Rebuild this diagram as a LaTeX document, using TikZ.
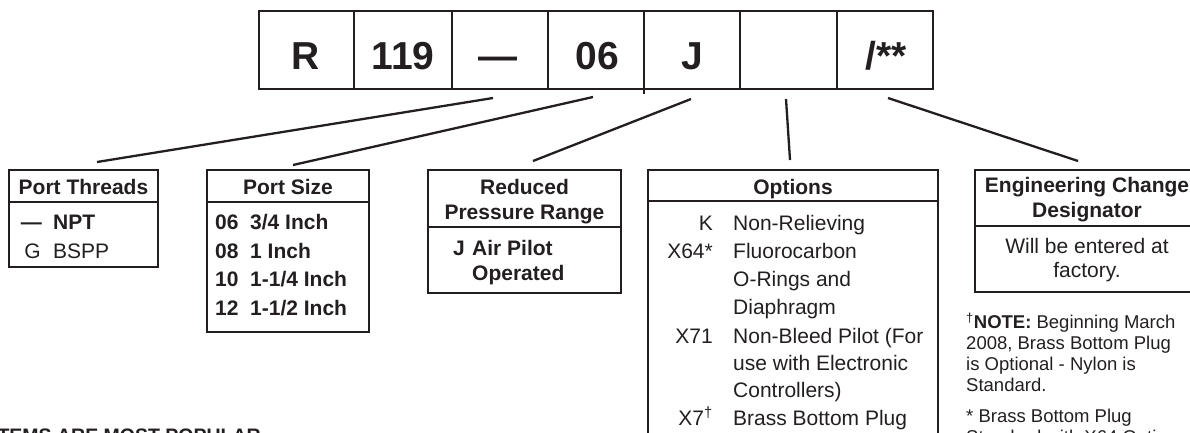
\documentclass[tikz,border=0pt]{standalone}
\usepackage{fontspec}
\setmainfont{Liberation Sans}
\definecolor{inkc}{HTML}{231F20}
\newcommand\fsTop{\fontsize{39}{44}\selectfont\bfseries}
\newcommand\fsMain{\fontsize{21}{28}\selectfont}
\newcommand\fsNote{\fontsize{18.5}{21}\selectfont}
\begin{document}
\begin{tikzpicture}[x=1pt,y=-1pt,
  ink/.style={draw=inkc, line width=2.4pt},
  cell/.style={ink, anchor=north west, inner sep=0pt, outer sep=0pt, minimum height=78pt},
  tbox/.style={ink, anchor=north west, inner sep=0pt, outer sep=0pt},
  conn/.style={draw=inkc, line width=2.3pt},
  toptxt/.style={text=inkc, anchor=base, inner sep=0pt, font=\fsTop},
  hd/.style={text=inkc, anchor=base, inner sep=0pt, font=\fsMain\bfseries},
  bl/.style={text=inkc, anchor=base west, inner sep=0pt, font=\fsMain\bfseries},
  rg/.style={text=inkc, anchor=base west, inner sep=0pt, font=\fsMain},
  rgc/.style={text=inkc, anchor=base, inner sep=0pt, font=\fsMain},
  rge/.style={text=inkc, anchor=base east, inner sep=0pt, font=\fsMain},
  nt/.style={text=inkc, anchor=base west, inner sep=0pt, font=\fsNote}]
\useasboundingbox (0,0) rectangle (1190,432);
\clip (0,0) rectangle (1190,432);

% top code bar
\node[cell, minimum width=95pt] (c1) at (259,11) {};
\node[cell, minimum width=98pt] (c2) at (354,11) {};
\node[cell, minimum width=96pt] (c3) at (452,11) {};
\node[cell, minimum width=96pt] (c4) at (548,11) {};
\node[cell, minimum width=96pt] (c5) at (644,11) {};
\node[cell, minimum width=97pt] (c6) at (740,11) {};
\node[cell, minimum width=96pt] (c7) at (837,11) {};
\draw[conn] (c5.south west) -- ++(0,5);
\node[toptxt] (tR) at (306,69) {R};
\node[toptxt] (t119) at (403,69) {119};
\node[toptxt] (tdash) at (498,69) {—};
\node[toptxt] (t06) at (597,69) {06};
\node[toptxt] (tJ) at (692,69) {J};
\node[toptxt] (tEC) at (886,69) {/**};

% Port Threads
\node[tbox, minimum width=149pt, minimum height=97pt] (pt) at (9,170) {};
\draw[ink] (pt.north west) ++(0,32) -- ++(149,0);
\node[hd] (ptH) at (83.5,194.5) {Port Threads};
\node[bl, anchor=base east] (ptc1) at (42,229.5) {—};
\node[bl] (ptd1) at (53,229.5) {NPT};
\node[rg, anchor=base east] (ptc2) at (41,258.5) {G};
\node[rg] (ptd2) at (53,258.5) {BSPP};

% Port Size
\node[tbox, minimum width=162pt, minimum height=162pt] (ps) at (207,170) {};
\draw[ink] (ps.north west) ++(0,32) -- ++(162,0);
\node[hd] (psH) at (288,194.5) {Port Size};
\node[bl] (psc1) at (215,229.5) {06};
\node[bl] (psd1) at (250,229.5) {3/4 Inch};
\node[bl] (psc2) at (215,258) {08};
\node[bl] (psd2) at (250,258) {1 Inch};
\node[bl] (psc3) at (215,286.5) {10};
\node[bl] (psd3) at (250,286.5) {1-1/4 Inch};
\node[bl] (psc4) at (215,315) {12};
\node[bl] (psd4) at (250,315) {1-1/2 Inch};

% Reduced Pressure Range
\node[tbox, minimum width=193pt, minimum height=123pt] (rp) at (428,170) {};
\draw[ink] (rp.north west) ++(0,57) -- ++(193,0);
\node[hd] (rpH1) at (524.5,194.5) {Reduced};
\node[hd] (rpH2) at (524.5,219.5) {Pressure Range};
\node[bl] (rpc1) at (453,255.5) {J};
\node[bl] (rpd1) at (472,255.5) {Air Pilot};
\node[bl] (rpd2) at (472,280.5) {Operated};

% Options
\node[tbox, minimum width=290pt, minimum height=320pt] (op) at (648,170) {};
\draw[ink] (op.north west) ++(0,31) -- ++(290,0);
\node[hd] (opH) at (793,194.5) {Options};
\node[rge] (opc1) at (713,230.5) {K};
\node[rg] (opd1) at (733,230.5) {Non-Relieving};
\node[rge] (opc2) at (713,258.5) {X64*};
\node[rg] (opd2) at (733,258.5) {Fluorocarbon};
\node[rg] (opd3) at (733,286.5) {O-Rings and};
\node[rg] (opd4) at (733,314.5) {Diaphragm};
\node[rge] (opc5) at (713,343.5) {X71};
\node[rg] (opd5) at (733,343.5) {Non-Bleed Pilot (For};
\node[rg] (opd6) at (733,370.5) {use with Electronic};
\node[rg] (opd7) at (733,397.5) {Controllers)};
\node[rge] (opc8) at (713,425.5) {X7\textsuperscript{†}};
\node[rg] (opd8) at (733,425.5) {Brass Bottom Plug};

% Engineering Change Designator
\node[tbox, minimum width=224pt, minimum height=122pt] (ec) at (975,170) {};
\draw[ink] (ec.north west) ++(0,56) -- ++(224,0);
\node[hd] (ecH1) at (1087,192.5) {Engineering Change};
\node[hd] (ecH2) at (1087,217.5) {Designator};
\node[rgc] (ecB1) at (1087,253.5) {Will be entered at};
\node[rgc] (ecB2) at (1087,277.5) {factory.};

% notes
\node[nt] (n1) at (966,328.6) {\textsuperscript{†}\textbf{NOTE:} Beginning March};
\node[nt] (n2) at (966,349.6) {2008, Brass Bottom Plug};
\node[nt] (n3) at (966,370.6) {is Optional - Nylon is};
\node[nt] (n4) at (966,391.6) {Standard.};
\node[nt] (n5) at (966,422.5) {* Brass Bottom Plug};
\node[nt] (n6) at (966,443.5) {Standard with X64 Option};
\node[text=inkc, anchor=base east, inner sep=0pt, font=\fontsize{19.5}{22}\selectfont\bfseries] (pop) at (261,442) {ITEMS ARE MOST POPULAR};

% connectors
\coordinate (a1) at (493,98);  \coordinate (b1) at (97,162);
\coordinate (a2) at (593,97);  \coordinate (b2) at (293,165);
\coordinate (a3) at (691,99);  \coordinate (b3) at (533,161);
\coordinate (a4) at (786,99);  \coordinate (b4) at (790,160);
\coordinate (a5) at (888,98);  \coordinate (b5) at (1078,161);
\draw[conn] (a1) -- (b1);
\draw[conn] (a2) -- (b2);
\draw[conn] (a3) -- (b3);
\draw[conn] (a4) -- (b4);
\draw[conn] (a5) -- (b5);
\end{tikzpicture}
\end{document}
